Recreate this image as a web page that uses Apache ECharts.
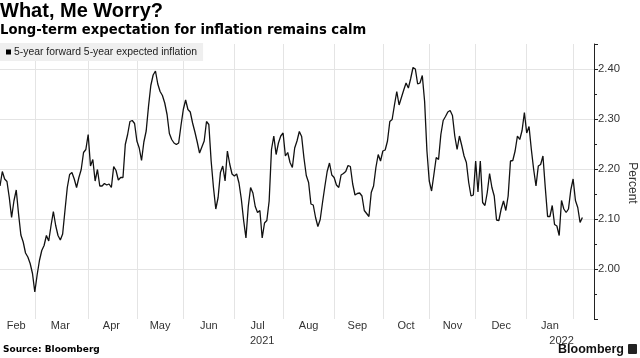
<!DOCTYPE html>
<html>
<head>
<meta charset="utf-8">
<script src="https://cdn.jsdelivr.net/npm/echarts@6/dist/echarts.min.js"></script>
<style>
html,body{margin:0;padding:0;background:#ffffff;}
#chart{width:640px;height:358px;}
</style>
</head>
<body>
<div id="chart"></div>
<script>
// ---------- data ----------
const titleText = 'What, Me Worry?';
const subtitleText = 'Long-term expectation for inflation remains calm';
const seriesName = '5-year forward 5-year expected inflation';
const sourceText = 'Source: Bloomberg';
const axisName = 'Percent';

// trading-day calendar of the x axis
const startDate = '2021-02-05';
const endDate = '2022-02-14';
const holidays = ['2021-02-15','2021-04-02','2021-05-31','2021-07-05','2021-09-06',
  '2021-10-11','2021-11-11','2021-11-25','2021-12-24','2022-01-17'];

// x tick labels (one per month band) and year labels
const monthLabels = ['Feb','Mar','Apr','May','Jun','Jul','Aug','Sep','Oct','Nov','Dec','Jan'];
const yearLabels = ['2021','2022'];

// y axis
const yMin = 1.9;
const yMax = 2.45;
const yInterval = 0.1;

// 5y5y forward inflation expectation, one value per trading day from 2021-02-05
const values = [
2.166,2.195,2.180,2.175,2.143,2.103,2.136,2.158,2.110,2.068,
2.054,2.032,2.024,2.011,1.991,1.954,1.988,2.017,2.037,2.047,
2.067,2.056,2.087,2.115,2.087,2.067,2.058,2.070,2.117,2.163,
2.189,2.193,2.180,2.163,2.183,2.199,2.233,2.239,2.269,2.206,
2.219,2.176,2.199,2.166,2.166,2.171,2.168,2.170,2.163,2.205,
2.197,2.178,2.183,2.183,2.249,2.269,2.295,2.297,2.291,2.256,
2.242,2.217,2.254,2.276,2.325,2.367,2.388,2.396,2.370,2.355,
2.347,2.332,2.309,2.271,2.259,2.252,2.249,2.252,2.287,2.319,
2.338,2.319,2.314,2.292,2.274,2.254,2.232,2.244,2.256,2.295,
2.289,2.216,2.163,2.120,2.143,2.193,2.206,2.176,2.236,2.210,
2.190,2.186,2.190,2.172,2.140,2.097,2.062,2.125,2.163,2.152,
2.125,2.113,2.117,2.062,2.092,2.097,2.136,2.239,2.266,2.229,
2.252,2.266,2.272,2.226,2.233,2.213,2.203,2.242,2.256,2.275,
2.265,2.222,2.187,2.173,2.130,2.128,2.103,2.085,2.099,2.133,
2.165,2.195,2.212,2.188,2.183,2.168,2.163,2.188,2.191,2.195,
2.207,2.205,2.170,2.148,2.151,2.152,2.146,2.117,2.111,2.105,
2.153,2.166,2.203,2.229,2.216,2.236,2.238,2.256,2.295,2.299,
2.328,2.355,2.328,2.343,2.358,2.372,2.362,2.381,2.403,2.400,
2.370,2.372,2.387,2.335,2.236,2.176,2.156,2.189,2.223,2.219,
2.269,2.297,2.305,2.314,2.317,2.307,2.266,2.239,2.266,2.247,
2.226,2.213,2.173,2.146,2.148,2.216,2.154,2.216,2.133,2.127,
2.153,2.191,2.163,2.146,2.098,2.097,2.120,2.136,2.117,2.146,
2.216,2.217,2.236,2.266,2.259,2.277,2.313,2.272,2.285,2.239,
2.199,2.166,2.206,2.209,2.226,2.163,2.105,2.105,2.127,2.089,
2.086,2.067,2.137,2.120,2.113,2.120,2.158,2.180,2.137,2.123,
2.093,2.103
];

// ---------- build categories ----------
function businessDays(start, end, skip) {
  const out = [];
  const d = new Date(start + 'T00:00:00Z');
  const e = new Date(end + 'T00:00:00Z');
  while (d <= e) {
    const dow = d.getUTCDay();
    const iso = d.toISOString().slice(0, 10);
    if (dow !== 0 && dow !== 6 && skip.indexOf(iso) < 0) out.push(iso);
    d.setUTCDate(d.getUTCDate() + 1);
  }
  return out;
}
const dates = businessDays(startDate, endDate, holidays);

// month bands
const monthStarts = [];
const bandStarts = [0];
for (let i = 1; i < dates.length; i++) {
  if (dates[i].slice(0, 7) !== dates[i - 1].slice(0, 7)) { monthStarts.push(i); bandStarts.push(i); }
}
const monthStartSet = new Set(monthStarts);
const monthLabelMap = new Map();
monthLabels.forEach((lab, k) => {
  const s = bandStarts[k];
  const e = k + 1 < bandStarts.length ? bandStarts[k + 1] : dates.length;
  monthLabelMap.set(Math.floor((s + e) / 2), lab);
});
// year bands
const yearLabelMap = new Map();
yearLabels.forEach(y => {
  let s = -1, e = -1;
  dates.forEach((d, i) => { if (d.slice(0, 4) === y) { if (s < 0) s = i; e = i; } });
  yearLabelMap.set(Math.floor((s + e + 1) / 2), y);
});

const sans = 'Liberation Sans';
const heavy = 'DejaVu Sans';
const gridColor = '#e4e4e4';
const textColor = '#333333';

const chart = echarts.init(document.getElementById('chart'), null, {renderer: 'canvas'});
chart.setOption({
  animation: false,
  backgroundColor: '#ffffff',
  title: [
    {text: titleText, left: 0, top: 1, padding: 0,
     textStyle: {fontFamily: sans, fontWeight: 'bold', fontSize: 20, color: '#000'}},
    {text: subtitleText, left: 0, top: 24, padding: 0,
     textStyle: {fontFamily: heavy, fontWeight: 'bold', fontSize: 13.2, color: '#000'}},
    {text: sourceText, left: 3, top: 345, padding: 0,
     textStyle: {fontFamily: heavy, fontWeight: 'bold', fontSize: 9, color: '#000'}}
  ],
  legend: {
    left: 0, top: 43, padding: [4, 6, 4, 6],
    backgroundColor: '#efefef',
    itemWidth: 5, itemHeight: 5,
    data: [{name: seriesName, icon: 'rect', itemStyle: {color: '#000'}}],
    textStyle: {fontFamily: sans, fontSize: 10.4, color: '#222', padding: [0, 0, 0, -2]},
    selectedMode: false
  },
  grid: {left: 0, right: 46, top: 44, bottom: 39, containLabel: false, outerBoundsMode: 'none'},
  xAxis: [
    {
      type: 'category', data: dates, boundaryGap: false,
      axisLine: {show: false}, axisTick: {show: false},
      splitLine: {show: true, interval: (i) => monthStartSet.has(i), lineStyle: {color: gridColor, width: 1}},
      axisLabel: {interval: (i) => monthLabelMap.has(i), formatter: (v, i) => monthLabelMap.get(i) || '',
        margin: 1, fontFamily: sans, fontSize: 11, color: textColor}
    },
    {
      type: 'category', data: dates, boundaryGap: false, position: 'bottom', offset: 15,
      axisLine: {show: false}, axisTick: {show: false}, splitLine: {show: false},
      axisLabel: {interval: (i) => yearLabelMap.has(i), formatter: (v, i) => yearLabelMap.get(i) || '',
        margin: 1, fontFamily: sans, fontSize: 11, color: textColor}
    }
  ],
  yAxis: {
    type: 'value', position: 'right', min: yMin, max: yMax, interval: yInterval,
    axisLine: {show: true, lineStyle: {color: '#222', width: 1}},
    axisTick: {show: true, length: 4, lineStyle: {color: '#222'}},
    minorTick: {show: true, splitNumber: 2, length: 3, lineStyle: {color: '#222'}},
    splitLine: {show: true, showMinLine: false, showMaxLine: false, lineStyle: {color: gridColor, width: 1}},
    axisLabel: {margin: 4, showMinLabel: false, showMaxLabel: false,
      formatter: (v) => v.toFixed(2), fontFamily: sans, fontSize: 11.3, color: textColor}
  },
  series: [{
    name: seriesName, type: 'line', data: values, xAxisIndex: 0,
    showSymbol: false, symbol: 'none',
    lineStyle: {color: '#111', width: 1.3},
    itemStyle: {color: '#000'}
  }],
  graphic: [
    {type: 'text', x: 632, y: 183, rotation: -Math.PI / 2,
     style: {text: axisName, font: '12px "Liberation Sans"', fill: textColor,
             textAlign: 'center', textVerticalAlign: 'middle'}},
    {type: 'text', right: 16, top: 343,
     style: {text: 'Bloomberg', font: 'bold 12.5px "Liberation Sans"', fill: '#111'}},
    {type: 'rect', left: 628, top: 344, shape: {width: 9, height: 10, r: 1}, style: {fill: '#222'}}
  ]
});
</script>
</body>
</html>
